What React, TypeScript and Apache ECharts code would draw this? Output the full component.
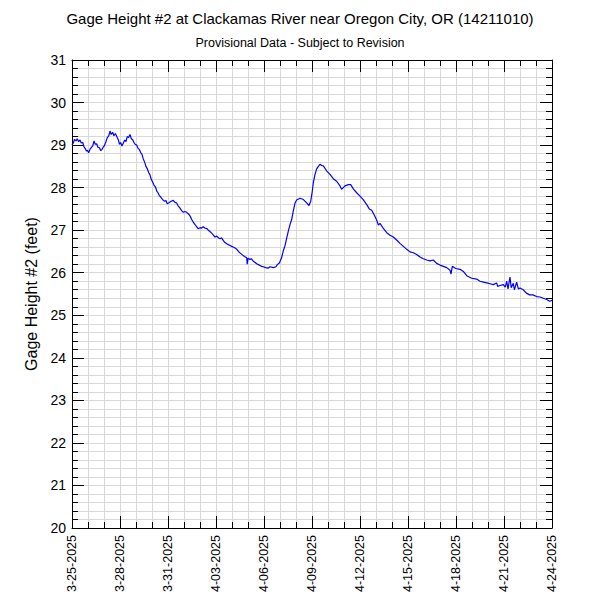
import React, { useEffect, useRef } from "react";
import * as echarts from "echarts";

const titleText = "Gage Height #2 at Clackamas River near Oregon City, OR (14211010)";
const subtitleText = "Provisional Data - Subject to Revision";
const yAxisName = "Gage Height #2 (feet)";

const tickLabels = [
  "3-25-2025", "3-28-2025", "3-31-2025", "4-03-2025", "4-06-2025", "4-09-2025",
  "4-12-2025", "4-15-2025", "4-18-2025", "4-21-2025", "4-24-2025",
];

// days since 3-25-2025 00:00
const dayOffsets = [
  0.0, 0.08, 0.15, 0.25, 0.33, 0.42, 0.5, 0.58, 0.67, 0.75, 0.81, 0.9, 0.96, 1.04, 1.12, 1.23, 1.3, 1.375, 1.45, 1.54,
  1.62, 1.71, 1.8, 1.875, 1.95, 2.04, 2.12, 2.2, 2.3, 2.375, 2.45, 2.54, 2.62, 2.71, 2.8, 2.9, 2.97, 3.04, 3.12, 3.21,
  3.3, 3.375, 3.45, 3.54, 3.62, 3.71, 3.8, 3.875, 3.95, 4.04, 4.12, 4.2, 4.3, 4.375, 4.45, 4.54, 4.62, 4.71, 4.8, 4.875,
  4.95, 5.04, 5.12, 5.21, 5.3, 5.375, 5.45, 5.54, 5.62, 5.71, 5.8, 5.875, 5.95, 6.04, 6.12, 6.2, 6.33, 6.42, 6.54, 6.62,
  6.75, 6.85, 6.96, 7.05, 7.17, 7.31, 7.4, 7.48, 7.58, 7.69, 7.8, 7.9, 8.0, 8.1, 8.2, 8.31, 8.42, 8.52, 8.62, 8.73,
  8.85, 8.94, 9.05, 9.15, 9.25, 9.35, 9.45, 9.56, 9.67, 9.77, 9.88, 9.98, 10.1, 10.19, 10.3, 10.4, 10.52, 10.65, 10.78, 10.92,
  10.95, 11.0, 11.125, 11.2, 11.33, 11.45, 11.54, 11.65, 11.75, 11.85, 11.96, 12.1, 12.27, 12.375, 12.58, 12.75, 12.83, 12.96, 13.1, 13.2,
  13.31, 13.42, 13.52, 13.625, 13.73, 13.83, 13.94, 14.04, 14.25, 14.46, 14.67, 14.81, 14.92, 15.02, 15.08, 15.19, 15.29, 15.4, 15.5, 15.6,
  15.71, 15.92, 16.125, 16.33, 16.54, 16.75, 16.85, 17.06, 17.27, 17.42, 17.58, 17.79, 18.0, 18.2, 18.42, 18.58, 18.73, 18.9, 19.04, 19.15,
  19.25, 19.46, 19.67, 19.875, 20.08, 20.29, 20.5, 20.71, 20.92, 21.125, 21.33, 21.54, 21.75, 21.96, 22.17, 22.375, 22.58, 22.79, 23.0, 23.21,
  23.42, 23.625, 23.69, 23.77, 23.98, 24.25, 24.46, 24.67, 24.98, 25.29, 25.5, 25.71, 25.92, 26.125, 26.33, 26.54, 26.6, 26.75, 26.96, 27.08,
  27.17, 27.25, 27.375, 27.45, 27.58, 27.65, 27.79, 27.9, 28.0, 28.2, 28.4, 28.6, 28.8, 29.04, 29.25, 29.46, 29.67, 29.85, 30.0,
];

const gageHeights = [
  29.0, 29.05, 29.13, 29.1, 29.15, 29.08, 29.12, 29.05, 29.06, 28.96, 28.93, 28.86, 28.88, 28.82, 28.9, 28.95, 28.98, 29.1, 29.02, 29.03,
  28.95, 28.94, 28.87, 28.9, 28.95, 29.0, 29.08, 29.17, 29.22, 29.33, 29.25, 29.3, 29.22, 29.27, 29.2, 29.12, 29.02, 29.06, 28.98, 29.05,
  29.12, 29.08, 29.2, 29.18, 29.25, 29.15, 29.12, 29.06, 29.02, 29.0, 28.93, 28.9, 28.82, 28.78, 28.68, 28.6, 28.5, 28.44, 28.35, 28.3,
  28.2, 28.13, 28.06, 28.02, 27.92, 27.88, 27.82, 27.78, 27.74, 27.7, 27.68, 27.7, 27.62, 27.64, 27.66, 27.68, 27.7, 27.66, 27.64, 27.58,
  27.52, 27.46, 27.42, 27.44, 27.42, 27.37, 27.32, 27.25, 27.19, 27.13, 27.08, 27.03, 27.06, 27.05, 27.08, 27.05, 27.04, 27.0, 26.97, 26.93,
  26.88, 26.84, 26.86, 26.82, 26.8, 26.82, 26.76, 26.71, 26.68, 26.66, 26.64, 26.62, 26.6, 26.58, 26.55, 26.5, 26.46, 26.42, 26.38, 26.35,
  26.2, 26.34, 26.31, 26.33, 26.27, 26.24, 26.21, 26.19, 26.17, 26.15, 26.14, 26.12, 26.11, 26.14, 26.12, 26.14, 26.19, 26.23, 26.35, 26.51,
  26.63, 26.82, 26.98, 27.13, 27.25, 27.45, 27.64, 27.71, 27.75, 27.72, 27.64, 27.58, 27.68, 27.92, 28.11, 28.31, 28.44, 28.5, 28.55, 28.52,
  28.51, 28.39, 28.31, 28.21, 28.15, 28.04, 27.96, 28.04, 28.07, 28.07, 27.97, 27.88, 27.8, 27.72, 27.6, 27.5, 27.47, 27.35, 27.24, 27.12,
  27.16, 27.04, 26.94, 26.88, 26.84, 26.77, 26.69, 26.62, 26.55, 26.49, 26.47, 26.43, 26.37, 26.33, 26.3, 26.28, 26.3, 26.22, 26.18, 26.15,
  26.12, 26.06, 25.97, 26.15, 26.1, 26.08, 26.03, 25.93, 25.87, 25.85, 25.8, 25.78, 25.76, 25.74, 25.72, 25.76, 25.68, 25.7, 25.72, 25.66,
  25.8, 25.62, 25.9, 25.65, 25.75, 25.6, 25.78, 25.62, 25.64, 25.6, 25.52, 25.48, 25.48, 25.44, 25.43, 25.4, 25.37, 25.33, 25.35,
];

const FONT = "'Liberation Sans', Arial, sans-serif";
const GRID_COLOR = "#d9d9d9";

export default function App() {
  const ref = useRef<HTMLDivElement | null>(null);

  useEffect(() => {
    if (!ref.current) return;
    const chart = echarts.init(ref.current, null, { renderer: "svg" });
    const axisLine = { show: true, onZero: false, lineStyle: { color: "#000", width: 1 } };
    const tick = { show: true, inside: true, length: 12, lineStyle: { color: "#000", width: 1 } };
    const minorTickX = { show: true, splitNumber: 3, length: 6, lineStyle: { color: "#000", width: 1 } };
    const minorTickY = { show: true, splitNumber: 5, length: 6, lineStyle: { color: "#000", width: 1 } };
    chart.setOption({
      animation: false,
      backgroundColor: "#fff",
      textStyle: { fontFamily: FONT },
      title: [
        {
          text: titleText,
          left: "center",
          top: 6,
          textStyle: { fontSize: 15, fontWeight: "normal", color: "#000", fontFamily: FONT },
        },
        {
          text: subtitleText,
          left: "center",
          top: 31,
          textStyle: { fontSize: 12.5, fontWeight: "normal", color: "#000", fontFamily: FONT },
        },
      ],
      grid: { left: 72, right: 48, top: 60, bottom: 72, containLabel: false },
      xAxis: [
        {
          type: "value",
          min: 0,
          max: 30,
          interval: 3,
          position: "bottom",
          axisLine,
          axisTick: tick,
          minorTick: minorTickX,
          splitLine: { show: true, lineStyle: { color: GRID_COLOR, width: 1 } },
          minorSplitLine: { show: true, lineStyle: { color: GRID_COLOR, width: 1 } },
          axisLabel: {
            rotate: 90,
            margin: 7,
            fontSize: 12.5,
            color: "#000",
            fontFamily: FONT,
            showMinLabel: true,
            showMaxLabel: true,
            formatter: (v: number) => tickLabels[Math.round(v / 3)] ?? "",
          },
        },
        {
          type: "value",
          min: 0,
          max: 30,
          interval: 3,
          position: "top",
          axisLine,
          axisTick: tick,
          minorTick: minorTickX,
          splitLine: { show: false },
          axisLabel: { show: false },
        },
      ],
      yAxis: [
        {
          type: "value",
          min: 20,
          max: 31,
          interval: 1,
          position: "left",
          name: yAxisName,
          nameLocation: "middle",
          nameGap: 29,
          nameTextStyle: { fontSize: 16, color: "#000", fontFamily: FONT },
          axisLine,
          axisTick: tick,
          minorTick: minorTickY,
          splitLine: { show: true, lineStyle: { color: GRID_COLOR, width: 1 } },
          minorSplitLine: { show: true, lineStyle: { color: GRID_COLOR, width: 1 } },
          axisLabel: { fontSize: 14, color: "#000", margin: 6, fontFamily: FONT },
        },
        {
          type: "value",
          min: 20,
          max: 31,
          interval: 1,
          position: "right",
          axisLine,
          axisTick: tick,
          minorTick: minorTickY,
          splitLine: { show: false },
          axisLabel: { show: false },
        },
      ],
      series: [
        {
          type: "line",
          xAxisIndex: 0,
          yAxisIndex: 0,
          data: dayOffsets.map((d, i) => [d, gageHeights[i]]),
          showSymbol: false,
          symbol: "none",
          lineStyle: { color: "#0000ff", width: 1.2 },
          z: 5,
        },
      ],
    });
    return () => chart.dispose();
  }, []);

  return (
    <div
      ref={ref}
      style={{ position: "fixed", left: 0, top: 0, width: 600, height: 600, background: "#fff" }}
    />
  );
}
